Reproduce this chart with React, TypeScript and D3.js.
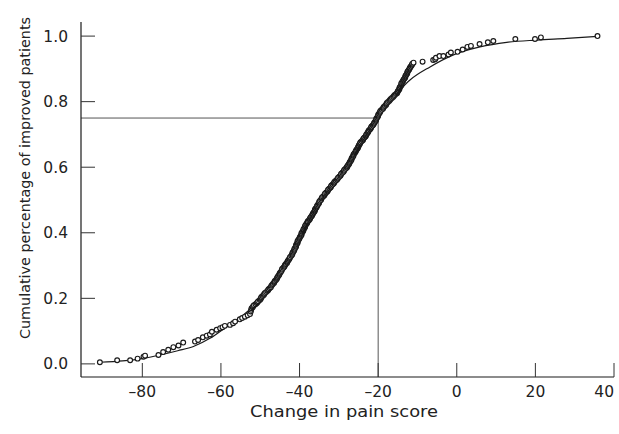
import React, { useEffect, useRef } from 'react';
import * as d3 from 'd3';

// Lower tail of the observed points (change score, cumulative proportion)
const lowerTail: [number, number][] = [
  [-90.8, 0.005], [-86.4, 0.011], [-83.1, 0.011], [-81.2, 0.016], [-79.7, 0.022],
  [-79.3, 0.025], [-75.9, 0.027], [-74.7, 0.036], [-73.4, 0.043], [-72.1, 0.051],
  [-70.8, 0.056], [-69.6, 0.065], [-66.6, 0.068], [-65.8, 0.073], [-64.6, 0.081],
  [-63.6, 0.086], [-62.8, 0.09], [-62.3, 0.098], [-61.1, 0.104], [-60.2, 0.109],
  [-59.6, 0.112], [-59.0, 0.116], [-57.7, 0.119], [-56.9, 0.124], [-56.4, 0.129],
  [-55.2, 0.136], [-54.6, 0.14], [-53.9, 0.144], [-53.2, 0.148], [-52.6, 0.152],
  [-52.4, 0.16], [-52.3, 0.165],
];

// Dense middle band of points
const middleBand: [number, number][] = [
  [-52.2, 0.17], [-51.8, 0.176], [-51.2, 0.182], [-50.7, 0.188], [-50.1, 0.195],
  [-49.8, 0.201], [-49.4, 0.207], [-49.0, 0.213], [-48.5, 0.219], [-48.0, 0.225],
  [-47.6, 0.231], [-47.2, 0.238], [-46.8, 0.244], [-46.4, 0.25], [-46.0, 0.256],
  [-45.7, 0.262], [-45.4, 0.268], [-45.1, 0.274], [-44.8, 0.28], [-44.5, 0.287],
  [-44.1, 0.293], [-43.8, 0.299], [-43.5, 0.305], [-43.1, 0.311], [-42.8, 0.317],
  [-42.5, 0.323], [-42.1, 0.33], [-41.8, 0.336], [-41.6, 0.342], [-41.3, 0.348],
  [-41.1, 0.354], [-40.9, 0.36], [-40.7, 0.366], [-40.5, 0.372], [-40.3, 0.378],
  [-40.0, 0.384], [-39.7, 0.39], [-39.5, 0.396], [-39.3, 0.402], [-39.0, 0.408],
  [-38.8, 0.414], [-38.6, 0.42], [-38.3, 0.426], [-38.0, 0.432], [-37.6, 0.438],
  [-37.3, 0.444], [-37.0, 0.45], [-36.7, 0.456], [-36.4, 0.462], [-36.1, 0.468],
  [-35.9, 0.474], [-35.6, 0.48], [-35.3, 0.486], [-35.0, 0.492], [-34.8, 0.498],
  [-34.4, 0.505], [-34.0, 0.511], [-33.6, 0.517], [-33.2, 0.523], [-32.8, 0.529],
  [-32.4, 0.535], [-32.0, 0.541], [-31.6, 0.547], [-31.2, 0.553], [-30.8, 0.559],
  [-30.3, 0.565], [-29.9, 0.571], [-29.5, 0.577], [-29.1, 0.583], [-28.7, 0.589],
  [-28.3, 0.595], [-27.9, 0.601], [-27.6, 0.607], [-27.3, 0.613], [-27.0, 0.619],
  [-26.8, 0.625], [-26.5, 0.631], [-26.3, 0.637], [-26.0, 0.643], [-25.7, 0.649],
  [-25.4, 0.655], [-25.1, 0.661], [-24.9, 0.667], [-24.6, 0.673], [-24.2, 0.679],
  [-23.8, 0.685], [-23.5, 0.691], [-23.1, 0.697], [-22.8, 0.703], [-22.5, 0.709],
  [-22.1, 0.715], [-21.8, 0.721], [-21.4, 0.727], [-21.1, 0.733], [-20.8, 0.739],
  [-20.5, 0.745], [-20.3, 0.751], [-20.0, 0.757], [-19.8, 0.763], [-19.5, 0.769],
  [-19.1, 0.775], [-18.7, 0.781], [-18.3, 0.787], [-17.9, 0.793], [-17.5, 0.799],
  [-17.0, 0.805], [-16.5, 0.811], [-16.0, 0.817], [-15.5, 0.823], [-15.1, 0.829],
  [-14.8, 0.835], [-14.6, 0.841], [-14.3, 0.847], [-14.1, 0.853], [-13.9, 0.859],
  [-13.6, 0.865], [-13.3, 0.871], [-13.1, 0.877], [-12.8, 0.883], [-12.6, 0.889],
  [-12.3, 0.895], [-12.0, 0.901], [-11.7, 0.907], [-11.4, 0.913], [-11.0, 0.919],
];

// More points inside the same band (they overlap into a solid stroke)
const middleBandFill: [number, number][] = [
  [-51.9, 0.173], [-51.6, 0.179], [-50.9, 0.185], [-50.5, 0.191], [-49.9, 0.198],
  [-49.7, 0.204], [-49.1, 0.21], [-48.8, 0.216], [-48.2, 0.222], [-47.9, 0.228],
  [-47.3, 0.234], [-47.0, 0.241], [-46.5, 0.247], [-46.3, 0.253], [-45.8, 0.259],
  [-45.6, 0.265], [-45.2, 0.271], [-45.0, 0.277], [-44.6, 0.283], [-44.4, 0.29],
  [-43.9, 0.296], [-43.7, 0.302], [-43.2, 0.308], [-43.0, 0.314], [-42.6, 0.32],
  [-42.4, 0.326], [-41.9, 0.333], [-41.8, 0.339], [-41.4, 0.345], [-41.3, 0.351],
  [-40.9, 0.357], [-40.9, 0.363], [-40.5, 0.369], [-40.5, 0.375], [-40.1, 0.381],
  [-39.9, 0.387], [-39.5, 0.393], [-39.5, 0.399], [-39.1, 0.405], [-39.0, 0.411],
  [-38.6, 0.417], [-38.5, 0.423], [-38.1, 0.429], [-37.9, 0.435], [-37.4, 0.441],
  [-37.2, 0.447], [-36.8, 0.453], [-36.6, 0.459], [-36.2, 0.465], [-36.1, 0.471],
  [-35.7, 0.477], [-35.5, 0.483], [-35.1, 0.489], [-35.0, 0.495], [-34.5, 0.501],
  [-34.3, 0.508], [-33.7, 0.514], [-33.5, 0.52], [-32.9, 0.526], [-32.7, 0.532],
  [-32.1, 0.538], [-31.9, 0.544], [-31.3, 0.55], [-31.1, 0.556], [-30.5, 0.562],
  [-30.2, 0.568], [-29.6, 0.574], [-29.4, 0.58], [-28.8, 0.586], [-28.6, 0.592],
  [-28.0, 0.598], [-27.8, 0.604], [-27.4, 0.61], [-27.2, 0.616], [-26.8, 0.622],
  [-26.7, 0.628], [-26.3, 0.634], [-26.2, 0.64], [-25.8, 0.646], [-25.6, 0.652],
  [-25.2, 0.658], [-25.0, 0.664], [-24.7, 0.67], [-24.5, 0.676], [-23.9, 0.682],
  [-23.7, 0.688], [-23.2, 0.694], [-23.0, 0.7], [-22.6, 0.706], [-22.4, 0.712],
  [-21.9, 0.718], [-21.7, 0.724], [-21.2, 0.73], [-21.0, 0.736], [-20.6, 0.742],
  [-20.5, 0.748], [-20.1, 0.754], [-20.0, 0.76], [-19.6, 0.766], [-19.4, 0.772],
  [-18.8, 0.778], [-18.6, 0.784], [-18.0, 0.79], [-17.8, 0.796], [-17.2, 0.802],
  [-16.8, 0.808], [-16.2, 0.814], [-15.8, 0.82], [-15.2, 0.826], [-15.0, 0.832],
  [-14.6, 0.838], [-14.5, 0.844], [-14.1, 0.85], [-14.1, 0.856], [-13.7, 0.862],
  [-13.5, 0.868], [-13.1, 0.874], [-13.0, 0.88], [-12.6, 0.886], [-12.5, 0.892],
  [-12.1, 0.898], [-11.9, 0.904], [-11.5, 0.91], [-11.3, 0.916],
];

// Upper tail of the observed points
const upperTail: [number, number][] = [
  [-8.7, 0.922], [-6.0, 0.927], [-5.5, 0.929], [-5.3, 0.934], [-4.4, 0.939],
  [-3.4, 0.939], [-2.1, 0.944], [-1.5, 0.95], [0.2, 0.952], [1.5, 0.959],
  [2.7, 0.967], [3.6, 0.97], [5.8, 0.976], [7.9, 0.981], [9.3, 0.985],
  [14.9, 0.991], [19.9, 0.991], [21.4, 0.996], [35.8, 1.0],
];

// Fitted curve
const fittedCurve: [number, number][] = [
  [-90.8, 0.005], [-85, 0.009], [-79.7, 0.017], [-75.5, 0.027], [-71, 0.04],
  [-67, 0.053], [-62.8, 0.078], [-58.5, 0.114], [-54.3, 0.149], [-50.9, 0.185],
  [-47, 0.24], [-44, 0.295], [-40, 0.38], [-37, 0.45], [-34, 0.51],
  [-30, 0.58], [-26, 0.645], [-23, 0.7], [-20.5, 0.75], [-18, 0.79],
  [-15.3, 0.825], [-11.9, 0.866], [-6.8, 0.906], [-1, 0.942], [5.9, 0.967],
  [12.7, 0.981], [20.4, 0.988], [28, 0.993], [35.8, 0.999],
];

const xTicks = [-80, -60, -40, -20, 0, 20, 40];
const yTicks = [0.0, 0.2, 0.4, 0.6, 0.8, 1.0];
const refX = -20;
const refY = 0.75;

const W = 619;
const H = 434;
const FONT = '"DejaVu Sans", Verdana, sans-serif';
const INK = '#1a1a1a';

const App: React.FC = () => {
  const svgRef = useRef<SVGSVGElement>(null);

  useEffect(() => {
    if (!svgRef.current) return;
    const svg = d3.select(svgRef.current);
    svg.selectAll('*').remove();

    const x = d3.scaleLinear().domain([-95.6, 40]).range([81, 614]);
    const y = d3.scaleLinear().domain([-0.04, 1.043]).range([377, 22]);

    const g = svg.append('g');

    // reference lines
    g.append('line')
      .attr('x1', x.range()[0]).attr('x2', x(refX))
      .attr('y1', y(refY)).attr('y2', y(refY))
      .attr('stroke', '#555').attr('stroke-width', 1);
    g.append('line')
      .attr('x1', x(refX)).attr('x2', x(refX))
      .attr('y1', y(refY)).attr('y2', y.range()[0])
      .attr('stroke', '#555').attr('stroke-width', 1);

    // axes
    g.append('line')
      .attr('x1', x.range()[0]).attr('x2', x.range()[0])
      .attr('y1', y.range()[1]).attr('y2', y.range()[0])
      .attr('stroke', INK).attr('stroke-width', 1.2);
    g.append('line')
      .attr('x1', x.range()[0]).attr('x2', x.range()[1])
      .attr('y1', y.range()[0]).attr('y2', y.range()[0])
      .attr('stroke', INK).attr('stroke-width', 1.2);

    // y ticks (inward)
    g.selectAll('.ytick')
      .data(yTicks)
      .enter()
      .append('line')
      .attr('x1', x.range()[0]).attr('x2', x.range()[0] + 14)
      .attr('y1', (d) => y(d)).attr('y2', (d) => y(d))
      .attr('stroke', '#333').attr('stroke-width', 1);
    g.selectAll('.ylab')
      .data(yTicks)
      .enter()
      .append('text')
      .attr('x', 68)
      .attr('y', (d) => y(d))
      .attr('dy', '0.36em')
      .attr('text-anchor', 'end')
      .attr('font-family', FONT)
      .attr('font-size', 15.5)
      .attr('fill', '#222')
      .text((d) => d.toFixed(1));

    // x ticks (inward)
    g.selectAll('.xtick')
      .data(xTicks)
      .enter()
      .append('line')
      .attr('x1', (d) => x(d)).attr('x2', (d) => x(d))
      .attr('y1', y.range()[0]).attr('y2', y.range()[0] - 14)
      .attr('stroke', '#333').attr('stroke-width', 1);
    g.selectAll('.xlab')
      .data(xTicks)
      .enter()
      .append('text')
      .attr('x', (d) => Math.min(x(d), W - 1))
      .attr('y', 397)
      .attr('text-anchor', (d) => (x(d) + 10 > W ? 'end' : 'middle'))
      .attr('font-family', FONT)
      .attr('font-size', 15.5)
      .attr('fill', '#222')
      .text((d) => (d < 0 ? `\u2013${Math.abs(d)}` : `${d}`));

    // axis titles
    g.append('text')
      .attr('x', 344)
      .attr('y', 417)
      .attr('text-anchor', 'middle')
      .attr('font-family', FONT)
      .attr('font-size', 16)
      .attr('fill', '#222')
      .attr('textLength', 188)
      .attr('lengthAdjust', 'spacingAndGlyphs')
      .text('Change in pain score');
    g.append('text')
      .attr('transform', 'translate(30,178) rotate(-90)')
      .attr('text-anchor', 'middle')
      .attr('font-family', FONT)
      .attr('font-size', 14.5)
      .attr('fill', '#222')
      .attr('textLength', 322)
      .attr('lengthAdjust', 'spacingAndGlyphs')
      .text('Cumulative percentage of improved patients');

    // fitted curve
    const line = d3
      .line<[number, number]>()
      .x((d) => x(d[0]))
      .y((d) => y(d[1]))
      .curve(d3.curveMonotoneX);
    g.append('path')
      .attr('d', line(fittedCurve) || '')
      .attr('fill', 'none')
      .attr('stroke', INK)
      .attr('stroke-width', 1.2);

    // observed points
    const pts = [...lowerTail, ...middleBand, ...middleBandFill, ...upperTail].sort(
      (a, b) => a[1] - b[1]
    );
    g.selectAll('.pt')
      .data(pts)
      .enter()
      .append('circle')
      .attr('cx', (d) => x(d[0]))
      .attr('cy', (d) => y(d[1]))
      .attr('r', 2.4)
      .attr('fill', 'white')
      .attr('stroke', INK)
      .attr('stroke-width', 1.15);
  }, []);

  return (
    <div style={{ position: 'absolute', left: 0, top: 0 }}>
      <svg ref={svgRef} width={W} height={H} style={{ display: 'block', background: 'white' }} />
    </div>
  );
};

export default App;
